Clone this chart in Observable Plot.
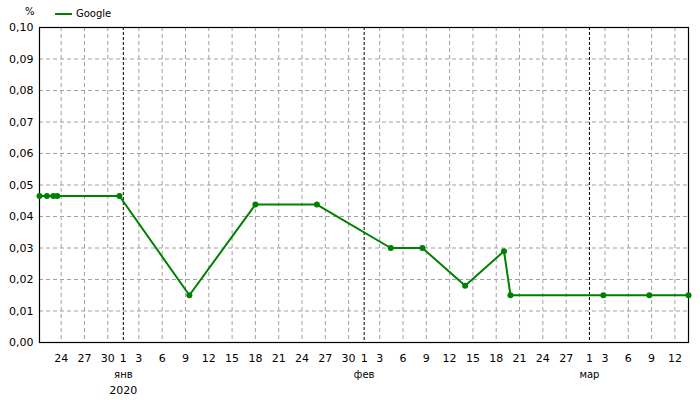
<!DOCTYPE html>
<html>
<head>
<meta charset="utf-8">
<script src="https://cdn.jsdelivr.net/npm/d3@7"></script>
<script src="https://cdn.jsdelivr.net/npm/@observablehq/plot@0.6"></script>
<style>
  body { margin: 0; background: #fff; }
  #wrap { position: relative; width: 700px; height: 400px; font-family: "DejaVu Sans", Verdana, sans-serif; font-size: 10px; color: #000; }
  #chart { position: absolute; left: 0; top: 0; }
  .ov { position: absolute; white-space: nowrap; }
</style>
</head>
<body>
<div id="wrap">
  <div id="chart"></div>
  <div class="ov" id="unit" style="left:25px; top:6px;">%</div>
  <div class="ov" style="left:55px; top:13px; width:17px; height:2px; background:#008000;"></div>
  <div class="ov" id="legend" style="left:76px; top:8px;">Google</div>
</div>
<script>
// ---- data ----
const seriesName = "Google";
const dates = [
  "2019-12-21T05:00:00Z", "2019-12-22T04:00:00Z", "2019-12-23T00:00:00Z", "2019-12-23T12:00:00Z",
  "2019-12-31T12:00:00Z", "2020-01-09T12:00:00Z", "2020-01-18T00:00:00Z", "2020-01-25T22:00:00Z",
  "2020-02-04T10:00:00Z", "2020-02-08T12:00:00Z", "2020-02-14T00:00:00Z", "2020-02-19T00:00:00Z",
  "2020-02-19T20:00:00Z", "2020-03-02T19:00:00Z", "2020-03-08T17:00:00Z", "2020-03-13T18:00:00Z"
];
const values = [
  0.0465, 0.0465, 0.0465, 0.0465,
  0.0465, 0.0150, 0.0438, 0.0438,
  0.0300, 0.0300, 0.0180, 0.0290,
  0.0150, 0.0150, 0.0150, 0.0150
];
const dayTicks = [
  "2019-12-24", "2019-12-27", "2019-12-30", "2020-01-01", "2020-01-03", "2020-01-06", "2020-01-09",
  "2020-01-12", "2020-01-15", "2020-01-18", "2020-01-21", "2020-01-24", "2020-01-27", "2020-01-30",
  "2020-02-01", "2020-02-03", "2020-02-06", "2020-02-09", "2020-02-12", "2020-02-15", "2020-02-18",
  "2020-02-21", "2020-02-24", "2020-02-27", "2020-03-01", "2020-03-03", "2020-03-06", "2020-03-09",
  "2020-03-12"
];
const monthTicks = ["2020-01-01", "2020-02-01", "2020-03-01"];
const monthNames = ["янв", "фев", "мар"];
const yearTicks = ["2020-01-01"];
const yearNames = ["2020"];
const yTicks = [0, 0.01, 0.02, 0.03, 0.04, 0.05, 0.06, 0.07, 0.08, 0.09, 0.10];

// ---- build ----
const data = dates.map((d, i) => ({date: new Date(d), value: values[i]}));
const dTicks = dayTicks.map(d => new Date(d + "T00:00:00Z"));
const mTicks = monthTicks.map(d => new Date(d + "T00:00:00Z"));
const yrTicks = yearTicks.map(d => new Date(d + "T00:00:00Z"));
const minorTicks = dTicks.filter(t => !mTicks.some(m => +m === +t));
const monthLabel = new Map(mTicks.map((m, i) => [+m, monthNames[i]]));
const yearLabel = new Map(yrTicks.map((m, i) => [+m, yearNames[i]]));
const green = "#008000";

const chart = Plot.plot({
  width: 700,
  height: 400,
  marginLeft: 39,
  marginRight: 12,
  marginTop: 27,
  marginBottom: 58,
  style: {fontFamily: "'DejaVu Sans', Verdana, sans-serif", fontSize: "10px", color: "#000", background: "#fff"},
  x: {type: "utc", domain: [data[0].date, data[data.length - 1].date]},
  y: {domain: [0, 0.1]},
  marks: [
    Plot.gridY(yTicks.slice(1, -1), {stroke: "#a0a0a0", strokeOpacity: 1, strokeDasharray: "4,3"}),
    Plot.gridX(minorTicks, {stroke: "#a0a0a0", strokeOpacity: 1, strokeDasharray: "4,3"}),
    Plot.gridX(mTicks, {stroke: "#000", strokeOpacity: 1, strokeDasharray: "3,2"}),
    Plot.axisY({ticks: yTicks, tickSize: 0, tickPadding: 6, tickFormat: d => d.toFixed(2).replace(".", ","), label: null, fontSize: 11}),
    Plot.axisX({ticks: dTicks, tickSize: 0, tickPadding: 12, tickFormat: d => String(d.getUTCDate()), label: null, fontSize: 11}),
    Plot.axisX({ticks: mTicks, tickSize: 0, tickPadding: 28, tickFormat: d => monthLabel.get(+d), label: null, fontSize: 10}),
    Plot.axisX({ticks: yrTicks, tickSize: 0, tickPadding: 44, tickFormat: d => yearLabel.get(+d), label: null, fontSize: 11}),
    Plot.frame({stroke: "#000", strokeWidth: 1.2}),
    Plot.line(data, {x: "date", y: "value", stroke: green, strokeWidth: 2}),
    Plot.dot(data, {x: "date", y: "value", r: 3, fill: green, stroke: "none"})
  ]
});
document.getElementById("chart").appendChild(chart);
</script>
</body>
</html>
